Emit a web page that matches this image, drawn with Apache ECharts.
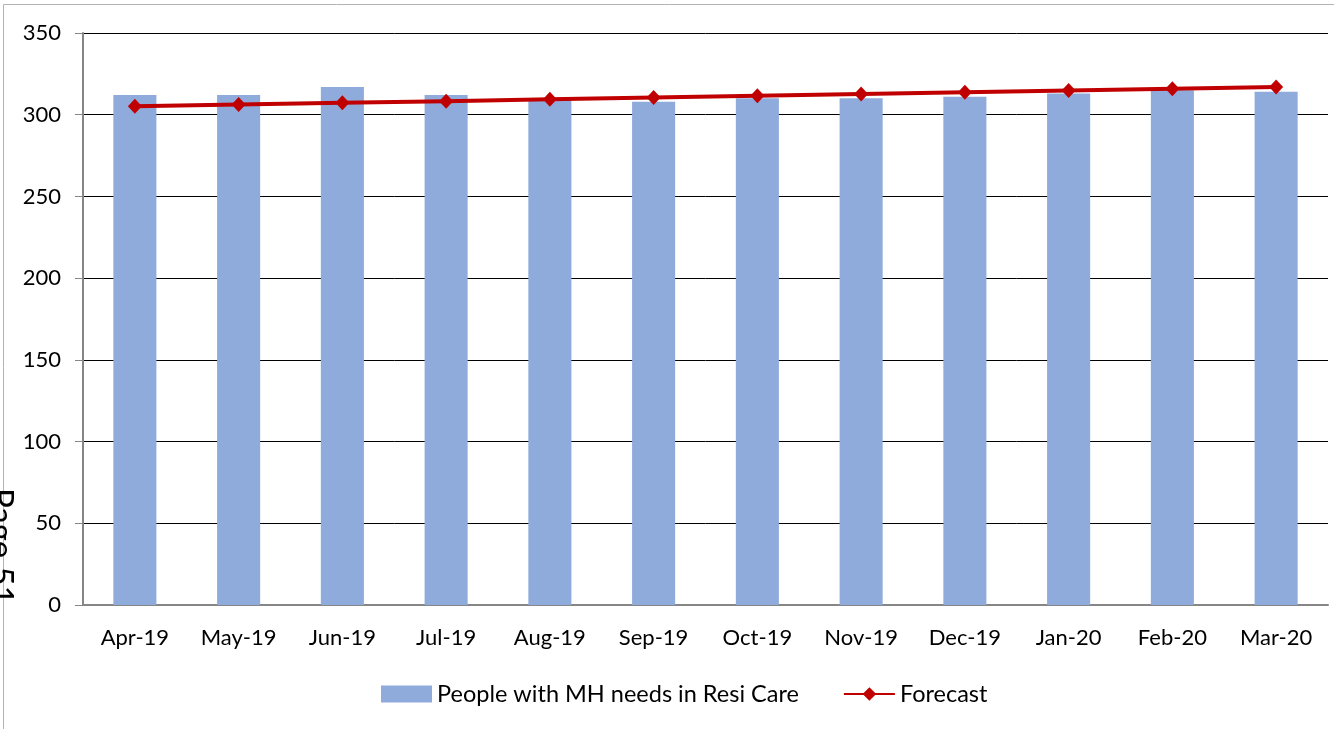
<!DOCTYPE html>
<html>
<head>
<meta charset="utf-8">
<script src="https://cdn.jsdelivr.net/npm/echarts@6/dist/echarts.min.js"></script>
<style>
  html, body { margin: 0; padding: 0; background: #fff; }
  #chart { width: 1334px; height: 729px; }
</style>
</head>
<body>
<div id="chart"></div>
<script>
var months = ['Apr-19', 'May-19', 'Jun-19', 'Jul-19', 'Aug-19', 'Sep-19',
              'Oct-19', 'Nov-19', 'Dec-19', 'Jan-20', 'Feb-20', 'Mar-20'];
var resiCare = [312, 312, 317, 312, 309, 308, 310, 310, 311, 313, 315, 314];
var forecast = [305.2, 306.2, 307.3, 308.3, 309.4, 310.5, 311.6, 312.7, 313.8, 314.8, 315.9, 317.0];

var fontName = 'Lato';
var chart = echarts.init(document.getElementById('chart'));
var option = {
    animation: false,
    textStyle: { fontFamily: fontName },
    graphic: [
        {
            type: 'rect',
            shape: { x: 3.5, y: 4.5, width: 1400, height: 800 },
            style: { fill: 'none', stroke: '#b3b3b3', lineWidth: 1 },
            silent: true
        },
        {
            type: 'text',
            x: -16, y: 488,
            rotation: -Math.PI / 2,
            style: {
                text: 'Page 51',
                fontSize: 33,
                fontFamily: fontName,
                fill: '#000',
                textAlign: 'left',
                textVerticalAlign: 'bottom'
            },
            silent: true
        }
    ],
    grid: { left: 83, right: 6, top: 33, bottom: 124 },
    legend: {
        left: 376, top: 677,
        itemGap: 44,
        itemWidth: 51,
        itemHeight: 17,
        textStyle: { fontSize: 23.5, color: '#000', fontFamily: fontName },
        data: [
            { name: 'People with MH needs in Resi Care', icon: 'rect' },
            { name: 'Forecast' }
        ]
    },
    xAxis: {
        type: 'category',
        data: months,
        axisLine: { lineStyle: { color: '#868686', width: 2 } },
        axisTick: { length: 8, lineStyle: { color: '#868686', width: 1 } },
        axisLabel: { color: '#000', fontSize: 22, margin: 22 }
    },
    yAxis: {
        type: 'value',
        min: 0, max: 350, interval: 50,
        axisLine: { show: true, lineStyle: { color: '#868686', width: 2 } },
        axisTick: { show: true, length: 8, lineStyle: { color: '#868686', width: 1 } },
        axisLabel: { color: '#000', fontSize: 22, margin: 22 },
        splitLine: { lineStyle: { color: '#000', width: 1 } }
    },
    series: [
        {
            name: 'People with MH needs in Resi Care',
            type: 'bar',
            data: resiCare,
            barWidth: '41.5%',
            itemStyle: { color: '#8eabdc' }
        },
        {
            name: 'Forecast',
            type: 'line',
            data: forecast,
            symbol: 'diamond',
            symbolSize: [14, 15],
            lineStyle: { color: '#c00000', width: 4 },
            itemStyle: { color: '#c00000' }
        }
    ]
};
chart.setOption(option);
</script>
</body>
</html>
